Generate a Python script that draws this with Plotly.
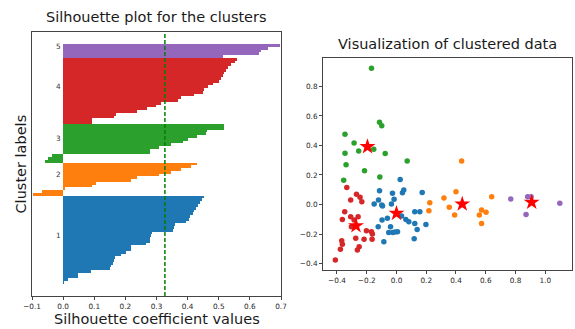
import plotly.graph_objects as go

# ---------------- data ----------------
cluster_names = ["1", "2", "3", "4", "5"]
cluster_colors = ["#1f77b4", "#ff7f0e", "#2ca02c", "#d62728", "#9467bd"]

# silhouette coefficient values per cluster (ascending)
sil_1 = [0.002, 0.015, 0.047, 0.047, 0.088, 0.149, 0.153, 0.161, 0.163, 0.167, 0.185,
         0.201, 0.219, 0.219, 0.266, 0.278, 0.280, 0.282, 0.287, 0.352, 0.355, 0.359,
         0.395, 0.403, 0.409, 0.416, 0.421, 0.427, 0.432, 0.441, 0.445, 0.454]
sil_2 = [-0.097, -0.068, 0.005, 0.094, 0.104, 0.217, 0.237, 0.309, 0.346, 0.378, 0.410, 0.429]
sil_3 = [-0.057, -0.050, -0.035, 0.278, 0.280, 0.309, 0.346, 0.384, 0.400, 0.430, 0.459,
         0.462, 0.518, 0.518]
sil_4 = [0.094, 0.094, 0.163, 0.169, 0.237, 0.271, 0.298, 0.314, 0.368, 0.378, 0.419,
         0.448, 0.452, 0.465, 0.481, 0.502, 0.508, 0.515, 0.518, 0.524, 0.529, 0.540,
         0.551, 0.558]
sil_5 = [0.513, 0.630, 0.635, 0.658, 0.696]
avg_score = 0.327

sil_ticks = [-0.1, 0.0, 0.1, 0.2, 0.3, 0.4, 0.5, 0.6, 0.7]

# scatter data (2-D projection)
pts1_x = [0.025, -0.114, 0.040, 0.049, -0.027, 0.173, -0.150, -0.121, -0.099, -0.094,
          -0.034, -0.016, -0.097, -0.061, -0.123, -0.040, -0.052, -0.025, 0.007, -0.010,
          -0.085, 0.034, 0.063, 0.083, 0.123, 0.157, 0.123, 0.198, 0.139, 0.119]
pts1_y = [0.170, 0.094, 0.080, 0.098, 0.076, 0.082, 0.003, 0.031, -0.003, -0.010,
          0.003, 0.035, -0.105, -0.094, -0.150, -0.150, -0.189, -0.189, -0.184, -0.187,
          -0.252, -0.078, -0.101, -0.117, -0.049, -0.049, -0.128, -0.135, -0.169, -0.232]
pts2_x = [0.438, 0.400, 0.224, 0.218, 0.319, 0.355, 0.391, 0.557, 0.572, 0.602, 0.572, 0.640]
pts2_y = [0.295, 0.087, 0.012, -0.042, 0.044, -0.019, -0.071, -0.071, -0.037, -0.053, -0.128, 0.053]
pts3_x = [-0.168, -0.114, -0.099, -0.346, -0.285, -0.254, -0.346, -0.153, -0.076, 0.072,
          -0.339, -0.215, -0.112, -0.355]
pts3_y = [0.923, 0.557, 0.534, 0.476, 0.417, 0.363, 0.347, 0.374, 0.345, 0.295,
          0.270, 0.229, 0.186, 0.164]
pts4_x = [-0.334, -0.269, -0.245, -0.233, -0.308, -0.348, -0.364, -0.308, -0.258, -0.285,
          -0.303, -0.202, -0.168, -0.162, -0.218, -0.164, -0.274, -0.368, -0.364, -0.377,
          -0.251, -0.263, -0.411]
pts4_y = [0.116, 0.069, 0.049, 0.019, 0.031, -0.049, -0.101, -0.083, -0.083, -0.105,
          -0.150, -0.178, -0.184, -0.200, -0.236, -0.236, -0.229, -0.245, -0.270, -0.304,
          -0.286, -0.309, -0.376]
pts5_x = [0.768, 0.882, 0.905, 0.871, 1.098]
pts5_y = [0.037, 0.053, 0.053, -0.067, 0.008]
centers_x = [0.000, 0.442, -0.195, -0.272, 0.909]
centers_y = [-0.060, 0.003, 0.392, -0.144, 0.015]

scatter_xticks = [-0.4, -0.2, 0.0, 0.2, 0.4, 0.6, 0.8, 1.0]
scatter_yticks = [-0.4, -0.2, 0.0, 0.2, 0.4, 0.6, 0.8]

# ---------------- figure ----------------
W, H = 575, 329
FONT = "DejaVu Sans"
LABEL_SIZE = 14.5
TICK_SIZE = 7.3
fig = go.Figure()

sil_sets = [sil_1, sil_2, sil_3, sil_4, sil_5]
pts_sets = [(pts1_x, pts1_y), (pts2_x, pts2_y), (pts3_x, pts3_y), (pts4_x, pts4_y), (pts5_x, pts5_y)]

y_lower = 0
label_pos = []
for vals, col in zip(sil_sets, cluster_colors):
    v = sorted(vals)
    ys = [y_lower + i for i in range(len(v))]
    fig.add_trace(go.Bar(x=v, y=ys, orientation="h", width=1.0, base=0,
                         marker=dict(color=col, line=dict(width=0)),
                         xaxis="x", yaxis="y", showlegend=False, hoverinfo="skip"))
    label_pos.append(y_lower + 0.5 * len(v) - 0.5)
    y_lower += len(v)

n_total = y_lower
pad = 4.35
for name, yp in zip(cluster_names, label_pos):
    fig.add_annotation(x=-0.03, y=yp, xref="x", yref="y", text=name, showarrow=False,
                       xanchor="left", yanchor="bottom", yshift=-2,
                       font=dict(family=FONT, size=TICK_SIZE, color="#333333"))

fig.add_shape(type="line", x0=avg_score, x1=avg_score, y0=0, y1=1, xref="x", yref="y domain",
              line=dict(color="#008000", width=1.5, dash="4px,2px"))

for (px, py), col in zip(pts_sets, cluster_colors):
    fig.add_trace(go.Scatter(x=px, y=py, mode="markers", xaxis="x2", yaxis="y2",
                             marker=dict(color=col, size=5.5, line=dict(width=0)),
                             showlegend=False, hoverinfo="skip"))
fig.add_trace(go.Scatter(x=centers_x, y=centers_y, mode="markers", xaxis="x2", yaxis="y2",
                         marker=dict(color="#ff0000", size=12, symbol="star", line=dict(width=0)),
                         showlegend=False, hoverinfo="skip"))

axis_common = dict(showline=True, mirror=True, linecolor="#444444", linewidth=1,
                   showgrid=False, zeroline=False, ticklen=3, tickwidth=0.8, automargin=False,
                   tickcolor="#444444", tickfont=dict(family=FONT, size=TICK_SIZE, color="#262626"))

fig.update_layout(
    width=W, height=H, autosize=False,
    margin=dict(l=0, r=0, t=0, b=0, pad=0, autoexpand=False),
    paper_bgcolor="white", plot_bgcolor="white",
    barmode="overlay", bargap=0,
    font=dict(family=FONT),
    xaxis=dict(domain=[32 / W, 281 / W], range=[-0.1, 0.7], tickvals=sil_ticks,
               tickformat=".1f", anchor="y", ticks="outside", **axis_common),
    yaxis=dict(domain=[(H - 296) / H, (H - 32) / H], range=[-0.5 - pad, n_total - 0.5 + pad],
               showticklabels=False, anchor="x", ticks="", **axis_common),
    xaxis2=dict(domain=[323 / W, 572 / W], range=[-0.494, 1.18], tickvals=scatter_xticks,
                tickformat=".1f", anchor="y2", ticks="outside", **axis_common),
    yaxis2=dict(domain=[(H - 270) / H, (H - 58) / H], range=[-0.444, 0.993],
                tickvals=scatter_yticks, tickformat=".1f", anchor="x2", ticks="outside",
                **axis_common),
)

# titles and axis labels
fig.add_annotation(x=(32 + 281) / 2 / W, y=1 - 17 / H, xref="paper", yref="paper",
                   text="Silhouette plot for the clusters", showarrow=False,
                   xanchor="center", yanchor="middle",
                   font=dict(family=FONT, size=LABEL_SIZE, color="#1a1a1a"))
fig.add_annotation(x=(323 + 572) / 2 / W, y=1 - 44 / H, xref="paper", yref="paper",
                   text="Visualization of clustered data", showarrow=False,
                   xanchor="center", yanchor="middle",
                   font=dict(family=FONT, size=LABEL_SIZE, color="#1a1a1a"))
fig.add_annotation(x=(32 + 281) / 2 / W, y=1 - 319 / H, xref="paper", yref="paper",
                   text="Silhouette coefficient values", showarrow=False,
                   xanchor="center", yanchor="middle",
                   font=dict(family=FONT, size=LABEL_SIZE, color="#1a1a1a"))
fig.add_annotation(x=20.5 / W, y=1 - 164 / H, xref="paper", yref="paper",
                   text="Cluster labels", showarrow=False, textangle=-90,
                   xanchor="center", yanchor="middle",
                   font=dict(family=FONT, size=LABEL_SIZE, color="#1a1a1a"))

fig.write_html("out.html", config={"responsive": False, "displayModeBar": False},
               post_script="document.body.style.margin='0';document.body.style.overflow='hidden';")
